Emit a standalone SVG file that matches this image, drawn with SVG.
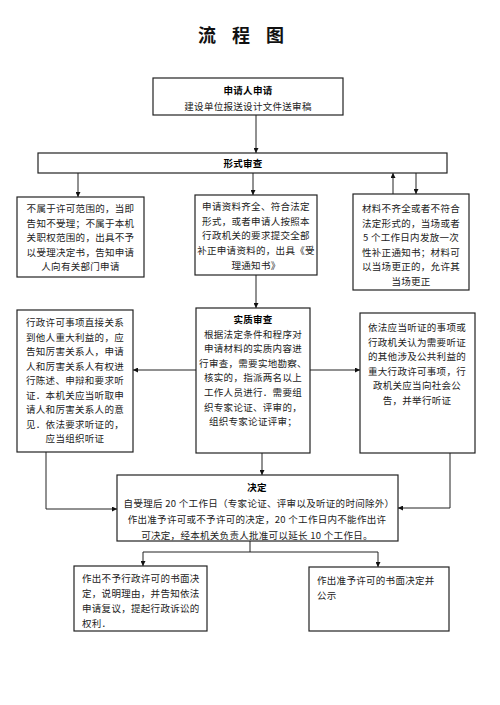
<svg xmlns="http://www.w3.org/2000/svg" width="500" height="705" viewBox="0 0 500 705">
<defs>
<marker id="ah" viewBox="0 0 10 10" refX="10" refY="5" markerWidth="5" markerHeight="5" orient="auto" markerUnits="userSpaceOnUse">
<path d="M0,0 L10,5 L0,10 z" fill="#111"/>
</marker>
<style>
.box{fill:#fff;stroke:#222;stroke-width:1.2}
.t{font-family:"Noto Sans CJK SC","Noto Sans",sans-serif;font-size:9.5px;letter-spacing:0.3px;fill:#222;text-anchor:middle}
.l{text-anchor:start}
.b{font-weight:700;fill:#000}
.c{fill:none;stroke:#222;stroke-width:1}
.a{marker-end:url(#ah)}
</style>
</defs>
<rect width="500" height="705" fill="#fff"/>
<text x="198 232 266" y="42" style="font-family:'Noto Sans CJK SC',sans-serif;font-size:18px;font-weight:700;fill:#111">流程图</text>

<g id="connectors">
<path class="c a" d="M256,115 V153"/>
<path class="c a" d="M78,173 V197"/>
<path class="c a" d="M253,173 V195"/>
<path class="c a" d="M393,194 V173"/>
<path class="c a" d="M416,173 V194"/>
<path class="c a" d="M256,275 V308"/>
<path class="c a" d="M196,370 H133"/>
<path class="c a" d="M310,370 H360"/>
<path class="c a" d="M46,452 V509 H117"/>
<path class="c a" d="M262,453 V475"/>
<path class="c a" d="M450,453 V508 H398"/>
<path class="c" d="M250,541 V552 M143,552 H378"/>
<path class="c a" d="M143,552 V566"/>
<path class="c a" d="M378,552 V567"/>
</g>

<g id="apply">
<rect class="box" x="153" y="78" width="190" height="37"/>
<text class="t b" x="248" y="94">申请人申请</text>
<text class="t" x="248" y="110">建设单位报送设计文件送审稿</text>
</g>

<g id="formal">
<rect class="box" x="38" y="153" width="409" height="20"/>
<text class="t b" x="243" y="167">形式审查</text>
</g>

<g id="reject">
<rect class="box" x="17" y="197" width="127" height="80"/>
<text class="t" x="80.5" y="212">不属于许可范围的，当即</text>
<text class="t" x="80.5" y="226.5">告知不受理；不属于本机</text>
<text class="t" x="80.5" y="241">关职权范围的，出具不予</text>
<text class="t" x="80.5" y="255.5">以受理决定书，告知申请</text>
<text class="t" x="80.5" y="270">人向有关部门申请</text>
</g>

<g id="accept">
<rect class="box" x="195" y="195" width="122" height="80"/>
<text class="t" x="256" y="210">申请资料齐全、符合法定</text>
<text class="t" x="256" y="224.7">形式，或者申请人按照本</text>
<text class="t" x="256" y="239.4">行政机关的要求提交全部</text>
<text class="t" x="256" y="254.1">补正申请资料的，出具《受</text>
<text class="t" x="256" y="268.8">理通知书》</text>
</g>

<g id="supplement">
<rect class="box" x="353" y="194" width="116" height="96"/>
<text class="t" x="411" y="212">材料不齐全或者不符合</text>
<text class="t" x="411" y="226.6">法定形式的，当场或者</text>
<text class="t" x="411" y="241.2">5 个工作日内发放一次</text>
<text class="t" x="411" y="255.8">性补正通知书；材料可</text>
<text class="t" x="411" y="270.4">以当场更正的，允许其</text>
<text class="t" x="411" y="285">当场更正</text>
</g>

<g id="stakeholder">
<rect class="box" x="17" y="310" width="116" height="142"/>
<text class="t" x="75" y="326">行政许可事项直接关系</text>
<text class="t" x="75" y="340.5">到他人重大利益的，应</text>
<text class="t" x="75" y="355">告知厉害关系人，申请</text>
<text class="t" x="75" y="369.5">人和厉害关系人有权进</text>
<text class="t" x="75" y="384">行陈述、申辩和要求听</text>
<text class="t" x="75" y="398.5">证．本机关应当听取申</text>
<text class="t" x="75" y="413">请人和厉害关系人的意</text>
<text class="t" x="75" y="427.5">见．依法要求听证的，</text>
<text class="t" x="75" y="442">应当组织听证</text>
</g>

<g id="substantive">
<rect class="box" x="196" y="308" width="114" height="145"/>
<text class="t b" x="253" y="323">实质审查</text>
<text class="t" x="253" y="337.6">根据法定条件和程序对</text>
<text class="t" x="253" y="352.2">申请材料的实质内容进</text>
<text class="t" x="253" y="366.8">行审查，需要实地勘察、</text>
<text class="t" x="253" y="381.4">核实的，指派两名以上</text>
<text class="t" x="253" y="396">工作人员进行．需要组</text>
<text class="t" x="253" y="410.6">织专家论证、评审的，</text>
<text class="t" x="253" y="425.2">组织专家论证评审；</text>
</g>

<g id="hearing">
<rect class="box" x="360" y="313" width="115" height="140"/>
<text class="t" x="417" y="331">依法应当听证的事项或</text>
<text class="t" x="417" y="345.6">行政机关认为需要听证</text>
<text class="t" x="417" y="360.2">的其他涉及公共利益的</text>
<text class="t" x="417" y="374.8">重大行政许可事项，行</text>
<text class="t" x="417" y="389.4">政机关应当向社会公</text>
<text class="t" x="417" y="404">告，并举行听证</text>
</g>

<g id="decision">
<rect class="box" x="117" y="475" width="281" height="66"/>
<text class="t b" x="257" y="491">决定</text>
<text class="t" x="259" y="507">自受理后 20 个工作日（专家论证、评审以及听证的时间除外）</text>
<text class="t" x="257" y="523">作出准予许可或不予许可的决定，20 个工作日内不能作出许</text>
<text class="t" x="257" y="538.5">可决定，经本机关负责人批准可以延长 10 个工作日。</text>
</g>

<g id="deny">
<rect class="box" x="74" y="566" width="133" height="65"/>
<text class="t l" x="82" y="582">作出不予行政许可的书面决</text>
<text class="t l" x="82" y="597">定，说明理由，并告知依法</text>
<text class="t l" x="82" y="612">申请复议，提起行政诉讼的</text>
<text class="t l" x="82" y="627">权利．</text>
</g>

<g id="grant">
<rect class="box" x="309" y="567" width="140" height="64"/>
<text class="t l" x="317" y="584" letter-spacing="0.8">作出准予许可的书面决定并</text>
<text class="t l" x="317" y="599" letter-spacing="0.8">公示</text>
</g>
</svg>
